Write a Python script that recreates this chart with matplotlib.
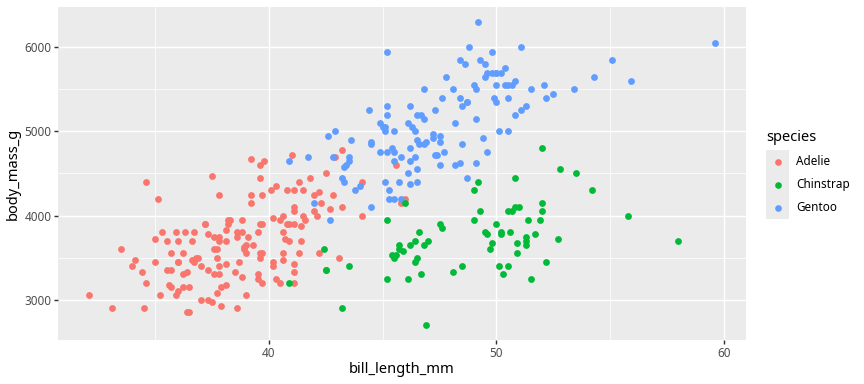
import matplotlib
matplotlib.use("Agg")
import matplotlib.pyplot as plt
from matplotlib.patches import Rectangle
from matplotlib.lines import Line2D

plt.rcParams['font.family'] = ['Noto Sans', 'DejaVu Sans']

# ---- data (Palmer penguins: bill_length_mm, body_mass_g) ----
adelie_bill = [39.1, 39.5, 40.3, 36.7, 39.3, 38.9, 39.2, 34.1, 42.0, 37.8, 37.8, 41.1, 38.6, 34.6, 36.6, 38.7, 42.5, 34.4, 46.0,
               37.8, 37.7, 35.9, 38.2, 38.8, 35.3, 40.6, 40.5, 37.9, 40.5,
               39.5, 37.2, 39.5, 40.9, 36.4, 39.2, 38.8, 42.2, 37.6, 39.8, 36.5, 40.8, 36.0, 44.1, 37.0, 39.6, 41.1, 37.5, 36.0, 42.3,
               39.6, 40.1, 35.0, 42.0, 34.5, 41.4, 39.0, 40.6, 36.5, 37.6, 35.7, 41.3, 37.6, 41.1, 36.4, 41.6, 35.5, 41.1,
               35.9, 41.8, 33.5, 39.7, 39.6, 45.8, 35.5, 42.8, 40.9, 37.2, 36.2, 42.1, 34.6, 42.9, 36.7, 35.1,
               37.3, 41.3, 36.3, 36.9, 38.3, 38.9, 35.7, 41.1, 34.0, 39.6, 36.2, 40.8, 38.1, 40.3, 33.1, 43.2,
               35.0, 41.0, 37.7, 37.8, 37.9, 39.7, 38.6, 38.2, 38.1, 43.2, 38.1, 45.6, 39.7, 42.2, 39.6, 42.7,
               38.6, 37.3, 35.7, 41.1, 36.2, 37.7, 40.2, 41.4, 35.2, 40.6, 38.8, 41.5, 39.0, 44.1, 38.5, 43.1,
               36.8, 37.5, 38.1, 41.1, 35.6, 40.2, 37.0, 39.7, 40.2, 40.6, 32.1, 40.7, 37.3, 39.0, 39.2, 36.6, 36.0, 37.8, 36.0, 41.5]
adelie_mass = [3750, 3800, 3250, 3450, 3650, 3625, 4675, 3475, 4250, 3300, 3700, 3200, 3800, 4400, 3700, 3450, 4500, 3325, 4200,
               3400, 3600, 3800, 3950, 3800, 3800, 3550, 3200, 3150, 3950,
               3250, 3900, 3300, 3900, 3325, 4150, 3950, 3550, 3300, 4650, 3150, 3900, 3100, 4400, 3000, 4600, 3425, 2975, 3450, 4150,
               3500, 4300, 3450, 4050, 2900, 3700, 3550, 3800, 2850, 3750, 3150, 4400, 3600, 4050, 2850, 3950, 3350, 4100,
               3050, 4450, 3600, 3900, 3550, 4150, 3700, 4250, 3700, 3900, 3550, 4000, 3200, 4700, 3800, 4200,
               3350, 3550, 3800, 3500, 3950, 3600, 3550, 4300, 3400, 4450, 3300, 4300, 3700, 4350, 2900, 4100,
               3725, 4725, 3075, 4250, 2925, 3550, 3750, 3900, 3175, 4775, 3825, 4600, 3200, 4275, 3900, 4075,
               2900, 3775, 3350, 3325, 3150, 3500, 3450, 3875, 3050, 4000, 3275, 4300, 3050, 4000, 3325, 3500,
               3500, 4475, 3425, 3900, 3175, 3975, 3400, 4250, 3400, 3475, 3050, 3725, 3000, 3650, 4250, 3475, 3450, 3750, 3700, 4000]

gentoo_bill = [46.1, 50.0, 48.7, 50.0, 47.6, 46.5, 45.4, 46.7, 43.3, 46.8, 40.9, 49.0, 45.5, 48.4, 45.8, 49.3, 42.0, 49.2, 46.2, 48.7,
               50.2, 45.1, 46.5, 46.3, 42.9, 46.1, 44.5, 47.8, 48.2, 50.0, 47.3, 42.8, 45.1, 59.6, 49.1, 48.4, 42.6, 44.4, 44.0, 48.7,
               42.7, 49.6, 45.3, 49.6, 50.5, 43.6, 45.5, 50.5, 44.9, 45.2, 46.6, 48.5, 45.1, 50.1, 46.5, 45.0, 43.8, 45.5, 43.2, 50.4,
               45.3, 46.2, 45.7, 54.3, 45.8, 49.8, 46.2, 49.5, 43.5, 50.7, 47.7, 46.4, 48.2, 46.5, 46.4, 48.6, 47.5, 51.1, 45.2, 45.2,
               49.1, 52.5, 47.4, 50.0, 44.9, 50.8, 43.4, 51.3, 47.5, 52.1, 47.5, 52.2, 45.5, 49.5, 44.5, 50.8, 49.4, 46.9, 48.4, 51.1,
               48.5, 55.9, 47.2, 49.1, 47.3, 46.8, 41.7, 53.4, 43.3, 48.1, 50.5, 49.8, 43.5, 51.5, 46.2, 55.1, 44.5, 48.8, 47.2, 46.8,
               50.4, 45.2, 49.9]
gentoo_mass = [4500, 5700, 4450, 5700, 5400, 4550, 4800, 5200, 4400, 5150, 4650, 5550, 4650, 5850, 4200, 5850, 4150, 6300, 4800, 5350,
               5700, 5000, 4400, 5050, 5000, 5100, 4100, 5650, 4600, 5550, 5250, 4700, 5050, 6050, 5150, 5400, 4950, 5250, 4350, 5350,
               3950, 5700, 4300, 4750, 5550, 4900, 4200, 5400, 5100, 5300, 4850, 5300, 4400, 5000, 4900, 5050, 4300, 5000, 4450, 5550,
               4200, 5300, 4400, 5650, 4700, 5700, 4650, 5800, 4700, 5550, 4750, 5000, 5100, 5200, 4700, 5800, 4600, 6000, 4750, 5950,
               4625, 5450, 4725, 5350, 4750, 5600, 4600, 5300, 4875, 5550, 4950, 5400, 4750, 5650, 4850, 5200, 4925, 4875, 4625, 5250,
               4850, 5600, 4975, 5500, 4725, 5500, 4700, 5500, 4575, 5500, 5000, 5950, 4650, 5500, 4375, 5850, 4875, 6000, 4925, 4850,
               5750, 5200, 5400]

chinstrap_bill = [46.5, 50.0, 51.3, 45.4, 52.7, 45.2, 46.1, 51.3, 46.0, 51.3, 46.6, 51.7, 47.0, 52.0, 45.9, 50.5, 50.3, 58.0, 46.4, 49.2,
                  42.4, 48.5, 43.2, 50.6, 46.7, 52.0, 50.5, 49.5, 46.4, 52.8, 40.9, 54.2, 42.5, 51.0, 49.7, 47.5, 47.6, 52.0, 46.9, 53.5,
                  49.0, 46.2, 50.9, 45.5, 50.9, 50.8, 50.1, 49.0, 51.5, 49.8, 48.1, 51.4, 45.7, 50.7, 42.5, 52.2, 45.2, 49.3, 50.2, 45.6,
                  51.9, 46.8, 45.7, 55.8, 43.5, 49.6, 50.8, 50.2]
chinstrap_mass = [3500, 3900, 3650, 3525, 3725, 3950, 3250, 3750, 4150, 3700, 3800, 3775, 3700, 4050, 3575, 4050, 3300, 3700, 3450, 4400,
                  3600, 3400, 2900, 3800, 3300, 4150, 3400, 3800, 3700, 4550, 3200, 4300, 3350, 4100, 3600, 3900, 3850, 4800, 2700, 4500,
                  3950, 3650, 3550, 3500, 3675, 4450, 3400, 4300, 3250, 3675, 3325, 3950, 3600, 4050, 3350, 3450, 3250, 4050, 3800, 3525,
                  3950, 3650, 3650, 4000, 3400, 3775, 4100, 3775]

species = ["Adelie", "Chinstrap", "Gentoo"]
colors = {"Adelie": "#F8766D", "Chinstrap": "#00BA38", "Gentoo": "#619CFF"}
x_ticks = [40, 50, 60]
y_ticks = [3000, 4000, 5000, 6000]

# ---- figure ----
W, H, DPI = 864, 384, 96
fig = plt.figure(figsize=(W / DPI, H / DPI), dpi=DPI)
fig.patch.set_facecolor("white")
L, R, T, B = 58, 746, 7, 340
ax = fig.add_axes([L / W, 1 - B / H, (R - L) / W, (B - T) / H])
ax.set_facecolor("#EBEBEB")
for s in ax.spines.values():
    s.set_visible(False)

allx = adelie_bill + gentoo_bill + chinstrap_bill
ally = adelie_mass + gentoo_mass + chinstrap_mass
xr = max(allx) - min(allx)
yr = max(ally) - min(ally)
ax.set_xlim(min(allx) - 0.05 * xr, max(allx) + 0.05 * xr)
ax.set_ylim(min(ally) - 0.05 * yr, max(ally) + 0.05 * yr)

ax.set_xticks(x_ticks)
ax.set_yticks(y_ticks)
ax.set_xticks([35, 45, 55], minor=True)
ax.set_yticks([3500, 4500, 5500], minor=True)
ax.grid(which="major", color="white", linewidth=1.07)
ax.grid(which="minor", color="white", linewidth=0.53)
ax.set_axisbelow(True)
ax.tick_params(which="major", length=2.75, width=1.07, color="#333333",
               labelsize=8.8, labelcolor="#4D4D4D", pad=2.2)
ax.tick_params(which="minor", length=0)

ms = 26
for sp, xs, ys in [("Adelie", adelie_bill, adelie_mass),
                   ("Gentoo", gentoo_bill, gentoo_mass),
                   ("Chinstrap", chinstrap_bill, chinstrap_mass)]:
    ax.scatter(xs, ys, s=ms, color=colors[sp], linewidths=0, zorder=3)

ax.set_xlabel("bill_length_mm", fontsize=11, color="black", labelpad=2)
ax.set_ylabel("body_mass_g", fontsize=11, color="black", labelpad=3)

# ---- legend (manual, ggplot style) ----
def fx(px):
    return px / W

def fy(py):
    return 1 - py / H

fig.text(fx(766), fy(141), "species", fontsize=11, ha="left", va="baseline")
key_top = 150
key = 23
for i, sp in enumerate(species):
    y0 = key_top + i * key
    fig.patches.append(Rectangle((fx(766), fy(y0 + key)), key / W, key / H,
                                 transform=fig.transFigure, facecolor="#EBEBEB",
                                 edgecolor="none"))
    fig.lines.append(Line2D([fx(766 + key / 2)], [fy(y0 + key / 2)], transform=fig.transFigure,
                            marker="o", markersize=5.0, markerfacecolor=colors[sp],
                            markeredgewidth=0, linestyle="none"))
    fig.text(fx(796), fy(y0 + key / 2), sp, fontsize=8.8, ha="left", va="center")

fig.savefig("out.png", dpi=DPI)
